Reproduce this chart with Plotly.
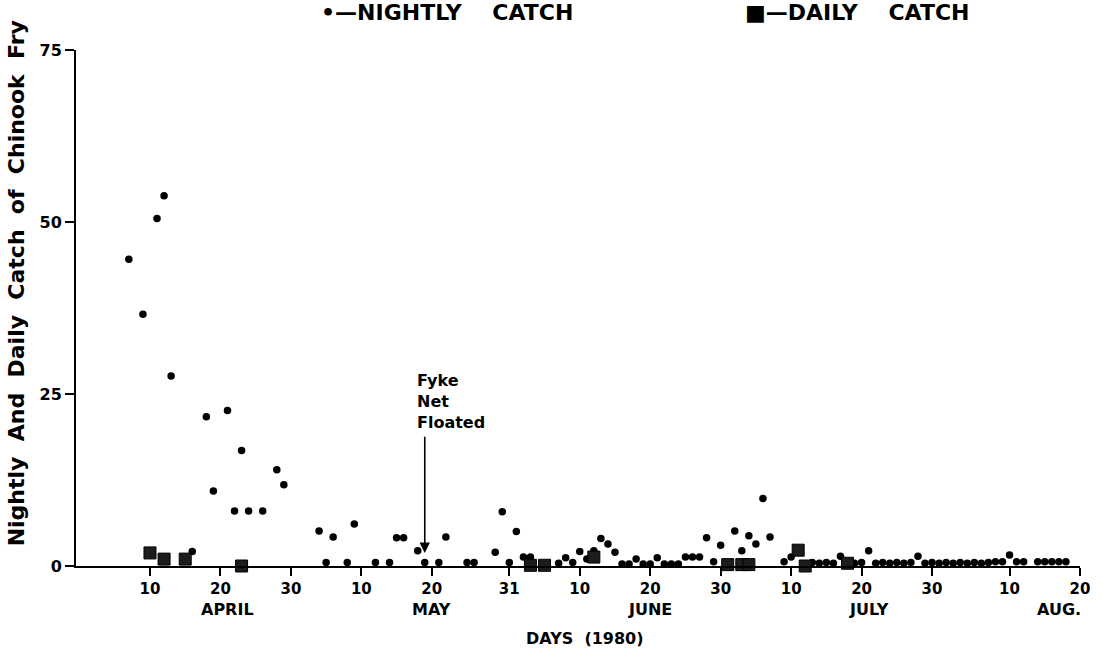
import plotly.graph_objects as go

YEAR = "1980"

# ---- data ----
nightly_dates = ["04-07", "04-09", "04-11", "04-12", "04-13", "04-16", "04-18", "04-19", "04-21", "04-22",
                 "04-23", "04-24", "04-26", "04-28", "04-29",
                 "05-04", "05-05", "05-06", "05-08", "05-09", "05-12", "05-14", "05-15", "05-16", "05-18",
                 "05-19", "05-21", "05-22", "05-25", "05-26", "05-29", "05-30", "05-31",
                 "06-01", "06-02", "06-03", "06-07", "06-08", "06-09", "06-10", "06-11", "06-12", "06-13",
                 "06-14", "06-15", "06-16", "06-17", "06-18", "06-19", "06-20", "06-21", "06-22", "06-23",
                 "06-24", "06-25", "06-26", "06-27", "06-28", "06-29", "06-30",
                 "07-02", "07-03", "07-04", "07-05", "07-06", "07-07", "07-09", "07-10", "07-13", "07-14",
                 "07-15", "07-16", "07-17", "07-19", "07-20", "07-21", "07-22", "07-23", "07-24", "07-25",
                 "07-26", "07-27", "07-28", "07-29", "07-30", "07-31",
                 "08-01", "08-02", "08-03", "08-04", "08-05", "08-06", "08-07", "08-08", "08-09", "08-10",
                 "08-11", "08-12", "08-14", "08-15", "08-16", "08-17", "08-18"]
nightly_catch = [44.6, 36.6, 50.5, 53.8, 27.6, 2.1, 21.7, 10.9, 22.6, 8.0,
                 16.8, 8.0, 8.0, 14.0, 11.8,
                 5.1, 0.5, 4.2, 0.5, 6.1, 0.5, 0.5, 4.1, 4.1, 2.2,
                 0.5, 0.5, 4.2, 0.5, 0.5, 2.0, 7.9, 0.5,
                 5.0, 1.3, 1.3, 0.4, 1.2, 0.5, 2.1, 1.0, 2.2, 4.0,
                 3.2, 2.0, 0.3, 0.3, 1.0, 0.3, 0.3, 1.2, 0.3, 0.3,
                 0.3, 1.3, 1.3, 1.3, 4.1, 0.6, 3.0,
                 5.1, 2.2, 4.4, 3.2, 9.8, 4.2, 0.6, 1.3, 0.5, 0.4,
                 0.5, 0.4, 1.4, 0.4, 0.5, 2.2, 0.4, 0.5, 0.4, 0.5,
                 0.4, 0.5, 1.4, 0.4, 0.5, 0.4,
                 0.5, 0.4, 0.5, 0.4, 0.5, 0.4, 0.5, 0.6, 0.6, 1.6,
                 0.6, 0.6, 0.6, 0.6, 0.6, 0.6, 0.6]

daily_dates = ["04-10", "04-12", "04-15", "04-23", "06-03", "06-05", "06-12", "07-01", "07-03", "07-04",
               "07-11", "07-12", "07-18"]
daily_catch = [1.9, 1.0, 1.0, 0.0, 0.1, 0.1, 1.3, 0.2, 0.2, 0.2,
               2.3, 0.0, 0.4]

tick_dates = ["04-10", "04-20", "04-30", "05-10", "05-20", "05-31", "06-10", "06-20", "06-30",
              "07-10", "07-20", "07-30", "08-10", "08-20"]
tick_labels = ["10", "20", "30", "10", "20", "31", "10", "20", "30", "10", "20", "30", "10", "20"]

month_labels = ["APRIL", "MAY", "JUNE", "JULY", "AUG."]
month_label_dates = ["04-21", "05-20", "06-20", "07-21", "08-17"]

y_ticks = [0, 25, 50, 75]

float_date = "05-19"


def d(md):
    return f"{YEAR}-{md}"


FONT = "DejaVu Sans"
NB = "\u00a0"

fig = go.Figure()
fig.add_trace(go.Scatter(
    x=[d(v) for v in nightly_dates], y=nightly_catch, mode="markers",
    marker=dict(symbol="circle", size=7.5, color="black"),
    cliponaxis=False, showlegend=False))
fig.add_trace(go.Scatter(
    x=[d(v) for v in daily_dates], y=daily_catch, mode="markers",
    marker=dict(symbol="square", size=12, color="#1c1c1c", line=dict(color="black", width=1)),
    cliponaxis=False, showlegend=False))

L, R, T, B = 76, 16, 50, 82
W, H = 1102, 648
pw, ph = W - L - R, H - T - B


def px_x(px):
    return (px - L) / pw


def px_y(py):
    return (H - B - py) / ph


annotations = []
for lab, md in zip(month_labels, month_label_dates):
    annotations.append(dict(x=d(md), xref="x", y=px_y(609), yref="paper", text=lab, showarrow=False,
                            xanchor="center", yanchor="middle",
                            font=dict(family=FONT, size=16, color="black", weight="bold")))
annotations.append(dict(x=px_x(588), y=px_y(638), xref="paper", yref="paper", text="DAYS  (1980)",
                        showarrow=False, xanchor="center", yanchor="middle",
                        font=dict(family=FONT, size=16, color="black", weight="bold")))
gap = NB * 2
annotations.append(dict(x=px_x(16), y=px_y(283), xref="paper", yref="paper", textangle=-90,
                        text=gap.join(["Nightly", "And", "Daily", "Catch", "of", "Chinook", "Fry"]),
                        showarrow=False, xanchor="center", yanchor="middle",
                        font=dict(family=FONT, size=22, color="black", weight="bold")))
annotations.append(dict(x=px_x(320), y=px_y(12), xref="paper", yref="paper",
                        text="\u2022\u2014NIGHTLY" + NB * 4 + "CATCH", showarrow=False,
                        xanchor="left", yanchor="middle",
                        font=dict(family=FONT, size=22, color="black", weight="bold")))
annotations.append(dict(x=px_x(747), y=px_y(12), xref="paper", yref="paper",
                        text="\u25a0\u2014DAILY" + NB * 4 + "CATCH", showarrow=False,
                        xanchor="left", yanchor="middle",
                        font=dict(family=FONT, size=22, color="black", weight="bold")))
annotations.append(dict(x=px_x(417), y=px_y(369), xref="paper", yref="paper",
                        text="Fyke<br>Net<br>Floated", align="left", showarrow=False,
                        xanchor="left", yanchor="top",
                        font=dict(family=FONT, size=16, color="black", weight="bold")))
annotations.append(dict(x=d(float_date), y=1.9, xref="x", yref="y",
                        ax=d(float_date), ay=19.0, axref="x", ayref="y",
                        text="", showarrow=True, arrowhead=2, arrowsize=1.3, arrowwidth=1.6,
                        arrowcolor="black"))

fig.update_layout(
    width=W, height=H,
    margin=dict(l=L, r=R, t=T, b=B, pad=0),
    paper_bgcolor="white", plot_bgcolor="white",
    annotations=annotations,
    xaxis=dict(type="date", range=[d("03-30 12:00"), d("08-20")],
               tickmode="array", tickvals=[d(v) for v in tick_dates], ticktext=tick_labels,
               ticks="outside", ticklen=8, tickwidth=2, tickcolor="black",
               showline=True, linewidth=2, linecolor="black", showgrid=False, zeroline=False,
               tickfont=dict(family=FONT, size=15, color="black", weight="bold")),
    yaxis=dict(range=[0, 75], tickmode="array", tickvals=y_ticks, ticktext=[str(v) for v in y_ticks],
               ticks="outside", ticklen=9, tickwidth=2, tickcolor="black",
               showline=True, linewidth=2, linecolor="black", showgrid=False, zeroline=False,
               tickfont=dict(family=FONT, size=16, color="black", weight="bold")),
)

fig.write_html("out.html")
